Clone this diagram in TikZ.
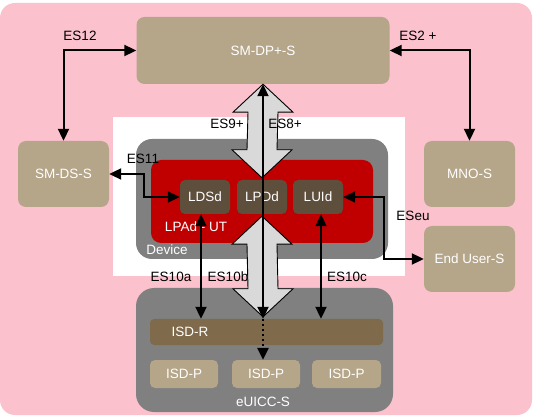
\documentclass[tikz,border=0pt]{standalone}
\usepackage{fontspec}
\setmainfont{Liberation Sans}
\usetikzlibrary{arrows.meta,calc}

\definecolor{pinkbg}{HTML}{FBC1CD}
\definecolor{tanbox}{HTML}{B5A589}
\definecolor{darkbrown}{HTML}{5E4E3C}
\definecolor{isdrcol}{HTML}{7F6B4C}
\definecolor{devgray}{HTML}{808080}
\definecolor{lpadred}{HTML}{C00000}
\definecolor{fatgray}{HTML}{D9D9D9}

% wide two-headed arrow between two points, top point first
\newcommand{\fatlink}[2]{%
	\draw[fat] (#1) -- ($(#1)+(30,28)$) -- ($(#1)+(15,28)$) -- ($(#2)+(15,-28)$) -- ($(#2)+(30,-28)$) -- (#2)
		-- ($(#2)+(-30,-28)$) -- ($(#2)+(-15,-28)$) -- ($(#1)+(-15,28)$) -- ($(#1)+(-30,28)$) -- cycle;}

\begin{document}
\begin{tikzpicture}[x=1pt,y=-1pt, font=\fontsize{13.5}{16}\selectfont,
	server/.style={fill=tanbox, text=white, rounded corners=8pt, minimum width=91pt, minimum height=66pt, inner sep=0pt},
	module/.style={fill=darkbrown, text=white, rounded corners=5pt, minimum width=50pt, minimum height=34pt, inner sep=0pt},
	isdp/.style={fill=tanbox, text=white, rounded corners=5pt, minimum width=68pt, minimum height=28pt, inner sep=0pt},
	link/.style={line width=2pt, {Triangle[length=12pt,width=11pt]}-{Triangle[length=12pt,width=11pt]}},
	fat/.style={draw=black, fill=fatgray, line width=0.9pt}]
	\useasboundingbox (0,0) rectangle (535,419);
	\fill[pinkbg, rounded corners=15pt] (0,3) rectangle (532,415);
	\fill[white] (113,117) rectangle (405,276);

	\node[server, minimum width=253pt, minimum height=67pt] (dp) at (263,50.5) {SM-DP+-S};
	\node[server] (ds) at (63.5,174) {SM-DS-S};
	\node[server] (mno) at (469.5,174) {MNO-S};
	\node[server] (eu) at (469.5,259) {End User-S};

	\node[fill=devgray, rounded corners=16pt, minimum width=252pt, minimum height=120pt] (dev) at (262,199) {};
	\node[fill=lpadred, rounded corners=10pt, minimum width=222pt, minimum height=83pt] (lpad) at (262,201.5) {};
	\node[module] (ldsd) at (205,197) {LDSd};
	\node[module] (lpdd) at (262,197) {LPDd};
	\node[module] (luid) at (318,197) {LUId};
	\node[text=white] (lpadtxt) at (196,227) {LPAd - UT};
	\node[text=white] (devtxt) at (167,250) {Device};

	\node[fill=devgray, rounded corners=18pt, minimum width=257pt, minimum height=124pt] (euicc) at (264.5,350) {};
	\node[fill=isdrcol, rounded corners=4pt, minimum width=233pt, minimum height=26pt] (isdr) at (266.5,332) {};
	\node[text=white] (isdrtxt) at (190,332) {ISD-R};
	\node[isdp] (isdp1) at (184,374) {ISD-P};
	\node[isdp] (isdp2) at (266,374) {ISD-P};
	\node[isdp, minimum width=69pt] (isdp3) at (346.5,374) {ISD-P};
	\node[text=white] (euicctxt) at (263,402) {eUICC-S};

	% wide arrows through LPDd
	\coordinate (upA) at (dp.south);
	\coordinate (upB) at ([yshift=2pt]lpdd.north);
	\coordinate (lowA) at ([yshift=-2pt]lpdd.south);
	\coordinate (lowB) at ([yshift=2pt]dp.south |- isdr.north);
	\fatlink{upA}{upB}
	\fatlink{lowA}{lowB}

	\node (es12) at (80,36) {ES12};
	\node (es2) at (418,36) {ES2 +};
	\node (es9) at (227,124) {ES9+};
	\node (es8) at (285,124) {ES8+};
	\node (es11) at (143,159) {ES11};
	\node (eseu) at (413,216) {ESeu};
	\node (es10a) at (171,277) {ES10a};
	\node (es10b) at (228,277) {ES10b};
	\node (es10c) at (347,277) {ES10c};

	\draw[link] (dp.west) -| (ds.north);
	\draw[link] (dp.east) -| (mno.north);
	\draw[link] (ds.east) -- ++(35,0) |- (ldsd.west);
	\draw[link] (luid.east) -- ++(41,0) |- (eu.west);
	\draw[link] ([xshift=-4pt]ldsd.south) -- ([xshift=-4pt]ldsd.south |- isdr.north);
	\draw[link] ([xshift=3pt]luid.south) -- ([xshift=3pt]luid.south |- isdr.north);
	\draw[link] (dp.south) -- (dp.south |- isdr.north);
	\draw[line width=2.5pt, dash pattern=on 2.5pt off 2.5pt, -{Triangle[length=12pt,width=11pt]}] (dp.south |- isdr.north) -- (dp.south |- isdp2.north);
\end{tikzpicture}
\end{document}
